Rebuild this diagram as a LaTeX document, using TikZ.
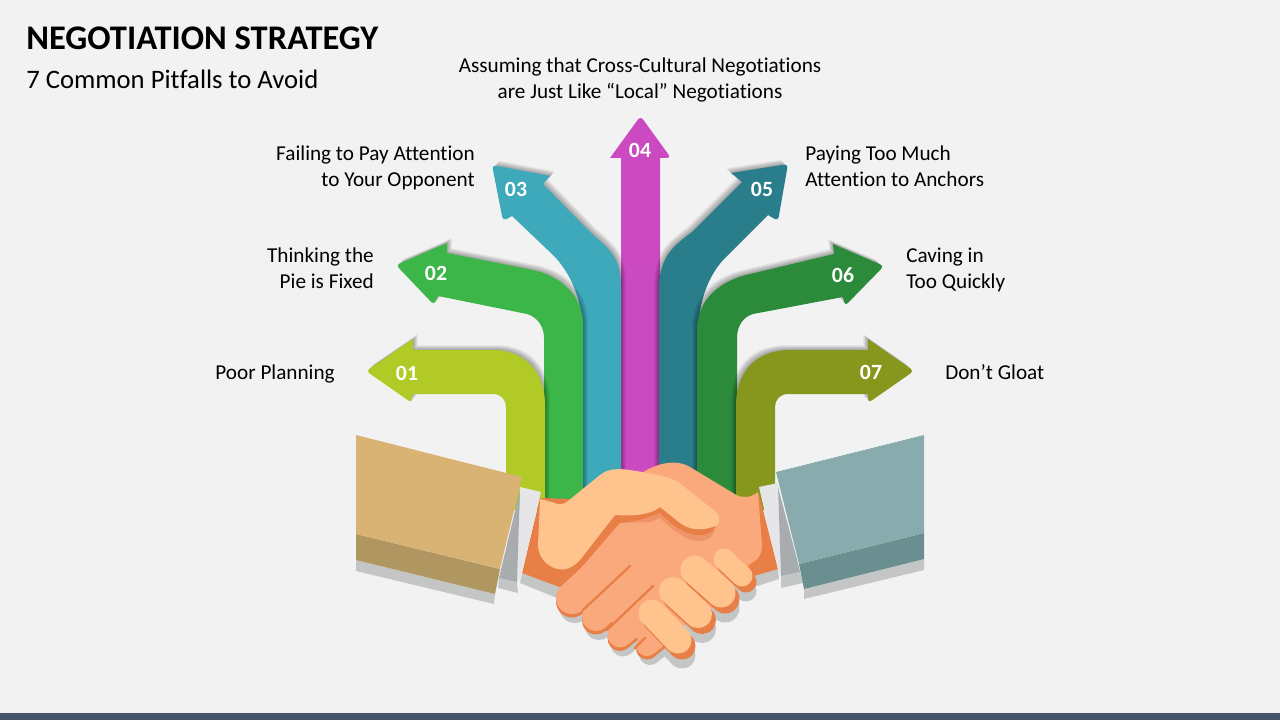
\documentclass[tikz,border=0pt]{standalone}
\usepackage{fontspec}
\setmainfont{Carlito}[Ligatures=NoCommon]
\definecolor{bgc}{HTML}{F2F2F2}
\definecolor{barc}{HTML}{44546A}
\definecolor{aa}{HTML}{B2CA26}
\definecolor{ab}{HTML}{3CB549}
\definecolor{ac}{HTML}{3DA9BB}
\definecolor{ad}{HTML}{CB49C1}
\definecolor{ae}{HTML}{2A7E8C}
\definecolor{af}{HTML}{2C8B3B}
\definecolor{ag}{HTML}{87971E}
\definecolor{tan}{HTML}{D8B373}
\definecolor{tand}{HTML}{B09661}
\definecolor{teal}{HTML}{88ACAE}
\definecolor{teald}{HTML}{6B8F91}
\definecolor{shc}{HTML}{C4C6C6}
\definecolor{cuffw}{HTML}{E6E6E8}
\definecolor{cuffg}{HTML}{A9ACAF}
\definecolor{skinl}{HTML}{FFC48E}
\definecolor{skinm}{HTML}{F9A97B}
\definecolor{skinb}{HTML}{EE9468}
\definecolor{skind}{HTML}{E87F46}
\tikzset{
  labeltext/.style={font=\fontsize{15.9}{19.5}\selectfont,inner sep=0pt,text=black},
  numtext/.style={font=\fontsize{16.3}{18}\selectfont\bfseries,inner sep=0pt,text=white},
  capsule/.style={line cap=round,line width=#1*0.75pt}
}
% path, colour, shadow direction x
\newcommand{\softarrow}[3]{%
  \foreach \k in {1,...,8}{%
    \fill[black,opacity=0.045,shift={(#3*\k*0.6,-\k*0.6)}] #1;}
  \fill[#2] #1;}
\newcommand{\capsules}[1]{%
  \draw[#1,capsule=21] (724,559) -- (742,576);
  \draw[#1,capsule=29] (695,570) -- (721,593);
  \draw[#1,capsule=28] (673,591) -- (698,614);
  \draw[#1,capsule=27] (652,613) -- (678,640);}
\newcommand{\peachfingers}[1]{%
  \draw[#1,capsule=32] (572,598) -- (632,543);
  \draw[#1,capsule=28] (596,617) -- (652,565);
  \draw[#1,capsule=25] (620,635) -- (672,590);
  \draw[#1,capsule=22] (647,645) -- (668,628);}
\begin{document}
\begin{tikzpicture}[x=0.75pt,y=-0.75pt]
\useasboundingbox (0,0) rectangle (1280,720);
\fill[bgc] (0,0) rectangle (1280,720);
\fill[barc] (0,713) rectangle (1280,720);
% arrows
\fill[ad] (621,510) -- (621,158) -- (610,158) [rounded corners=3pt] -- (640.5,116) -- (671,158) [sharp corners] -- (660,158) -- (660,510) -- cycle;
\softarrow{(621,510) -- (621,285) .. controls (621,255) and (605,246) .. (590,232) -- (543,184) -- (550,176) [rounded corners=3pt] -- (492,165) -- (503,221) [sharp corners] -- (512,216) -- (553,255) .. controls (570,272) and (583,300) .. (583,335) -- (583,510) -- cycle}{ac}{1}
\softarrow{(583,510) -- (583,325) .. controls (583,295) and (560,276) .. (533,270) -- (447,253) -- (447,243) [rounded corners=3pt] -- (396,265) -- (434,305) [sharp corners] -- (438,296) -- (527,314) .. controls (537,317) and (544,326) .. (544,338) -- (544,510) -- cycle}{ab}{1}
\softarrow{(545,510) -- (545,405) .. controls (545,372) and (525,350) .. (493,350) -- (413,350) -- (413,339) [rounded corners=3pt] -- (366,371) -- (412,403) [sharp corners] -- (412,394) -- (493,394) .. controls (501,394) and (506,400) .. (506,407) -- (506,510) -- cycle}{aa}{1}
\softarrow{(659,510) -- (659,290) .. controls (659,255) and (675,245) .. (692,232) -- (742,182) -- (731,173) [rounded corners=3pt] -- (788,164) -- (778,221) [sharp corners] -- (768,215) -- (727,256) .. controls (710,272) and (698,300) .. (698,335) -- (698,510) -- cycle}{ae}{-1}
\softarrow{(697,510) -- (697,330) .. controls (697,298) and (722,280) .. (750,274) -- (834,254) -- (833,244) [rounded corners=3pt] -- (884,266) -- (845,306) [sharp corners] -- (843,297) -- (753,314) .. controls (743,317) and (737,326) .. (737,338) -- (737,510) -- cycle}{af}{-1}
\softarrow{(736,510) -- (736,405) .. controls (736,372) and (756,350) .. (790,350) -- (868,350) -- (868,339) [rounded corners=3pt] -- (914,371) -- (868,403) [sharp corners] -- (868,394) -- (788,394) .. controls (780,394) and (775,400) .. (775,407) -- (775,510) -- cycle}{ag}{-1}
% hand shadows
\fill[shc] (522,573) -- (520,583) -- (557,598) -- (575,590) -- cycle;
\fill[shc] (745,575) -- (778,569) -- (779,579) -- (745,590) -- cycle;
\begin{scope}[shift={(3,9)}]
  \peachfingers{shc}
\end{scope}
\begin{scope}[shift={(4,15)}]
  \capsules{shc}
\end{scope}
% left wrist and right wrist base
\fill[skind] (540,498) -- (522,573) -- (562,588) -- (622,525) -- (600,500) -- cycle;
\fill[skind] (759,494) -- (778,569) -- (740,580) -- (720,540) -- cycle;
% orange under peach fingers
\begin{scope}[shift={(0,3.5)}]
  \peachfingers{skind}
\end{scope}
% palm
\fill[skinm] (640,474) .. controls (655,464) and (675,458) .. (690,467) -- (733,493) .. controls (742,499) and (750,498) .. (758,492) -- (762,545) .. controls (762,555) and (758,560) .. (750,564) -- (700,620) -- (640,640) -- (562,590) -- (620,523) -- cycle;
\peachfingers{skinm}
% separators
\draw[skind,line width=1.7pt,line cap=round] (583,610) -- (630,566);
\draw[skind,line width=1.7pt,line cap=round] (607,630) -- (653,586);
\draw[skind,line width=1.7pt,line cap=round] (635,648) -- (645,638);
% thumb underside
\fill[skinb] (620,523) -- (650,522) -- (660,518) .. controls (675,532) and (688,542) .. (702,541) .. controls (710,540) and (715,535) .. (716,522) -- (660,490) -- cycle;
\fill[skind] (608,515) -- (620,523) -- (640,520) -- (660,513) .. controls (675,528) and (688,536) .. (702,535) .. controls (710,534) and (716,530) .. (716,522) -- (660,490) -- cycle;
% left hand
\fill[skinl] (540,499) -- (552,502) .. controls (558,505) and (563,505) .. (568,501) -- (600,475) .. controls (610,467) and (622,468) .. (647,473) .. controls (662,476) and (672,477) .. (682,485) -- (716,512) .. controls (722,518) and (720,525) .. (713,527) .. controls (700,531) and (690,530) .. (680,523) -- (660,507) .. controls (650,515) and (635,516) .. (615,515) -- (580,560) .. controls (570,571) and (560,571) .. (552,567) .. controls (543,563) and (538,553) .. (538,545) -- cycle;
% right fingers
\begin{scope}[shift={(4,6)}]
  \capsules{skind}
\end{scope}
\capsules{skinl}
% left sleeve
\fill[shc] (356,560) -- (495,594) -- (494,604) -- (356,571) -- cycle;
\fill[shc] (499,578) -- (517,582) -- (518,593) -- (498,588) -- cycle;
\fill[cuffw] (520,487) -- (541,492) -- (522,573) -- (517,582) -- cycle;
\fill[cuffg] (520,490) -- (499,578) -- (517,582) -- cycle;
\fill[tand] (356,534) -- (500,569) -- (495,594) -- (356,560) -- cycle;
\fill[tan] (356,435) -- (522,477) -- (500,569) -- (356,534) -- cycle;
% right sleeve
\fill[shc] (781,576) -- (800,572) -- (803,583) -- (781,588) -- cycle;
\fill[shc] (804,589) -- (924,559) -- (924,570) -- (804,599) -- cycle;
\fill[cuffw] (759,487) -- (778,483) -- (781,576) -- (778,569) -- cycle;
\fill[cuffg] (778,487) -- (798,563) -- (800,572) -- (781,576) -- cycle;
\fill[teald] (799,564) -- (924,533) -- (924,559) -- (804,589) -- cycle;
\fill[teal] (776,472) -- (924,435) -- (924,533) -- (799,564) -- cycle;
% numbers
\node[numtext] (n1) at (407,373) {01};
\node[numtext] (n2) at (436,273) {02};
\node[numtext] (n3) at (516,189) {03};
\node[numtext] (n4) at (640,150) {04};
\node[numtext] (n5) at (762,189) {05};
\node[numtext] (n6) at (843,275) {06};
\node[numtext] (n7) at (871,372) {07};
% labels
\node[labeltext,align=center] (l4) at (640,80) {Assuming that Cross-Cultural Negotiations\\are Just Like “Local” Negotiations};
\node[labeltext,align=right,anchor=east] (l3) at (475,168) {Failing to Pay Attention\\to Your Opponent};
\node[labeltext,align=right,anchor=east] (l2) at (374,268) {Thinking the\\Pie is Fixed};
\node[labeltext,align=right,anchor=east] (l1) at (335,374) {Poor Planning};
\node[labeltext,align=left,anchor=west] (l5) at (805,166) {Paying Too Much\\Attention to Anchors};
\node[labeltext,align=left,anchor=west] (l6) at (906,270) {Caving in\\Too Quickly};
\node[labeltext,align=left,anchor=west] (l7) at (945,372) {Don’t Gloat};
% title
\node[anchor=base west,inner sep=0pt,font=\fontsize{25.9}{30}\selectfont\bfseries] (title) at (26,50) {NEGOTIATION STRATEGY};
\node[anchor=base west,inner sep=0pt,font=\fontsize{20}{23}\selectfont] (subtitle) at (26,89) {7 Common Pitfalls to Avoid};
\end{tikzpicture}
\end{document}
